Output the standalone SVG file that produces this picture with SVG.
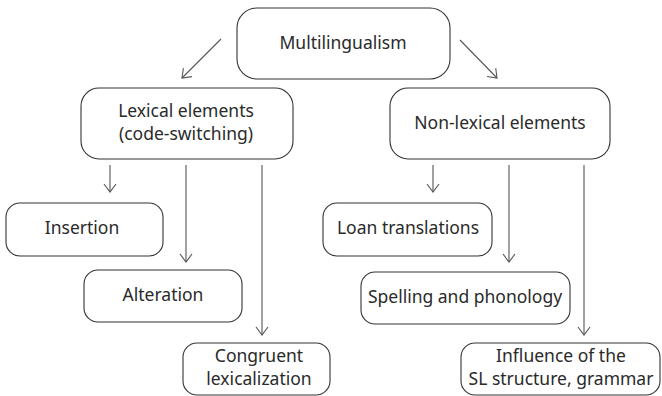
<svg xmlns="http://www.w3.org/2000/svg" width="662" height="396" viewBox="0 0 662 396">
<style>
.box{fill:#fff;stroke:#333;stroke-width:1.1}
.t{font-family:"Noto Sans","Open Sans",sans-serif;font-size:17.5px;fill:#2a2a2a;text-anchor:middle}
.c{stroke:#555;stroke-width:1.1;fill:none;marker-end:url(#ah)}
</style>
<defs>
<marker id="ah" viewBox="0 0 10 14" refX="9" refY="7" markerWidth="10" markerHeight="14" markerUnits="userSpaceOnUse" orient="auto">
<polyline points="1,1 9,7 1,13" fill="none" stroke="#555" stroke-width="1.1"/>
</marker>
</defs>
<rect width="662" height="396" fill="#fff"/>
<g id="connectors">
<line class="c" x1="221" y1="39" x2="182" y2="78"/>
<line class="c" x1="460" y1="40" x2="497" y2="78"/>
<line class="c" x1="110" y1="165" x2="110" y2="192"/>
<line class="c" x1="186" y1="165" x2="186" y2="262"/>
<line class="c" x1="262" y1="165" x2="262" y2="335"/>
<line class="c" x1="433" y1="165" x2="433" y2="192"/>
<line class="c" x1="509" y1="165" x2="509" y2="262"/>
<line class="c" x1="584" y1="165" x2="584" y2="335"/>
</g>
<g id="multilingualism"><rect class="box" x="237" y="8" width="213" height="71" rx="20"/><text class="t" x="343" y="49">Multilingualism</text></g>
<g id="lexical"><rect class="box" x="81" y="88" width="212" height="71" rx="18"/><text class="t" x="186" y="117">Lexical elements</text><text class="t" x="186" y="140">(code-switching)</text></g>
<g id="nonlexical"><rect class="box" x="390" y="88" width="220" height="71" rx="18"/><text class="t" x="500" y="129">Non-lexical elements</text></g>
<g id="insertion"><rect class="box" x="6" y="203" width="157" height="53" rx="14"/><text class="t" x="82" y="234">Insertion</text></g>
<g id="alteration"><rect class="box" x="84" y="270" width="158" height="52" rx="14"/><text class="t" x="163" y="301">Alteration</text></g>
<g id="congruent"><rect class="box" x="183" y="343" width="147" height="52" rx="14"/><text class="t" x="259" y="362">Congruent</text><text class="t" x="259" y="385">lexicalization</text></g>
<g id="loan"><rect class="box" x="323" y="203" width="169" height="53" rx="14"/><text class="t" x="408" y="234">Loan translations</text></g>
<g id="spelling"><rect class="box" x="361" y="272" width="209" height="52" rx="14"/><text class="t" x="465" y="303">Spelling and phonology</text></g>
<g id="influence"><rect class="box" x="461" y="343" width="199" height="52" rx="14"/><text class="t" x="561" y="362">Influence of the</text><text class="t" x="561" y="385">SL structure, grammar</text></g>
</svg>
